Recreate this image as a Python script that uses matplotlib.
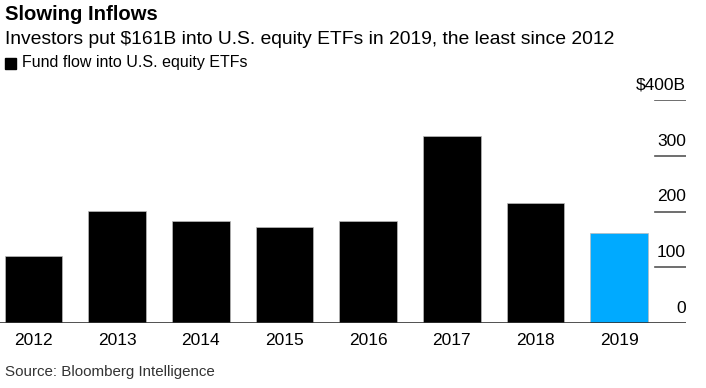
import matplotlib
matplotlib.use("Agg")
import matplotlib.pyplot as plt
from matplotlib.patches import Rectangle

# Data (USD billions)
years = ["2012", "2013", "2014", "2015", "2016", "2017", "2018", "2019"]
flows = [121, 201, 183, 173, 183, 335, 215, 161]
bar_colors = ["#000000"] * 7 + ["#00aaff"]
y_ticks = [0, 100, 200, 300, 400]
y_tick_labels = ["0", "100", "200", "300", "$400B"]

plt.rcParams["font.family"] = ["Liberation Sans", "DejaVu Sans"]

W, H = 706, 388
fig = plt.figure(figsize=(W / 100, H / 100), dpi=100)
ax = fig.add_axes([0, (H - 323) / H, 686 / W, (323 - 100) / H])

x = list(range(len(years)))
ax.bar(x, flows, width=0.69, color=bar_colors, edgecolor="#bbbbbb", linewidth=0.5, zorder=2)
ax.set_xlim(-0.40, 7.80)
ax.set_ylim(0, 400)

# short grid marks on the right with labels above them
for v, lab in zip(y_ticks, y_tick_labels):
    if v == 0:
        ax.axhline(0, color="#333333", linewidth=1.2, zorder=3)
    else:
        ax.axhline(v, xmin=655 / 686, xmax=1, color="#555555", linewidth=1.2)
    ax.text(1.0, v + 13, lab, transform=ax.get_yaxis_transform(), ha="right", va="bottom",
            fontsize=12.5, color="#000000", clip_on=False)

ax.set_xticks(x)
ax.set_xticklabels(years, fontsize=12.5)
ax.tick_params(axis="x", length=0, pad=7)
ax.set_yticks([])
for s in ax.spines.values():
    s.set_visible(False)

fig.text(5 / W, 1 - 14 / H, "Slowing Inflows", fontsize=14.6, fontweight="bold", va="center", ha="left")
fig.text(5 / W, 1 - 39 / H, "Investors put $161B into U.S. equity ETFs in 2019, the least since 2012",
         fontsize=13.9, va="center", ha="left")
fig.patches.append(Rectangle((5 / W, 1 - 69 / H), 11 / W, 11 / H, transform=fig.transFigure,
                             color="#000000", figure=fig))
fig.text(22 / W, 1 - 63 / H, "Fund flow into U.S. equity ETFs", fontsize=11.5, va="center", ha="left")
fig.text(5 / W, 1 - 372 / H, "Source: Bloomberg Intelligence", fontsize=10.9, va="center", ha="left",
         color="#333333")

fig.savefig("out.png", dpi=100)
